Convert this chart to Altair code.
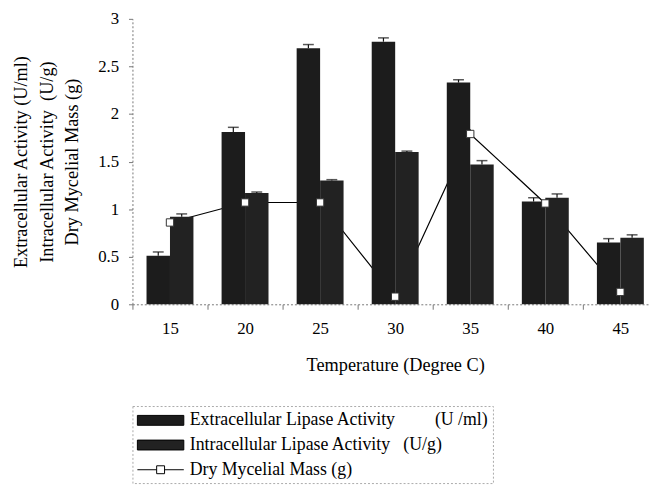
import altair as alt
import pandas as pd

temps = ["15", "20", "25", "30", "35", "40", "45"]
ext = [0.51, 1.81, 2.69, 2.76, 2.33, 1.08, 0.65]
ext_err = [0.04, 0.05, 0.04, 0.04, 0.03, 0.04, 0.04]
intr = [0.92, 1.17, 1.30, 1.60, 1.47, 1.12, 0.70]
int_err = [0.03, 0.01, 0.01, 0.01, 0.04, 0.04, 0.03]
mass = [0.86, 1.07, 1.07, 0.08, 1.79, 1.06, 0.13]
mass_err = [0.0, 0.0, 0.0, 0.0, 0.05, 0.0, 0.0]

EXT = "Extracellular Lipase Activity" + "\u00a0" * 9 + "(U /ml)"
INT = "Intracellular Lipase Activity" + "\u00a0" * 3 + "(U/g)"
MASS = "Dry Mycelial Mass (g)"
series = [EXT, INT, MASS]
y_ticks = [0, 0.5, 1, 1.5, 2, 2.5, 3]
y_title = ["Extracellular Activity (U/ml)", "Intracellular Activity\u00a0\u00a0(U/g)", "Dry Mycelial Mass (g)"]
x_title = "Temperature (Degree C)"

bars_df = pd.DataFrame({
    "temp": temps * 2,
    "series": [EXT] * 7 + [INT] * 7,
    "value": ext + intr,
    "err": ext_err + int_err,
})
bars_df["top"] = bars_df["value"] + bars_df["err"]
mass_df = pd.DataFrame({"temp": temps, "series": MASS, "value": mass, "err": mass_err})
mass_df["top"] = mass_df["value"] + mass_df["err"]

FONT = "Liberation Serif"

x_enc = alt.X("temp:N", sort=temps,
              scale=alt.Scale(paddingInner=0, paddingOuter=0, range=[0, 532]),
              axis=alt.Axis(title=x_title, labelAngle=0, tickBand="extent",
                            domainDash=[2, 2], domainColor="#777", tickColor="#777",
                            tickSize=5, labelPadding=12, titlePadding=19,
                            labelFont=FONT, titleFont=FONT,
                            labelFontSize=17, titleFontSize=18.5))
xoff = alt.XOffset("series:N", sort=[EXT, INT],
                   scale=alt.Scale(domain=[EXT, INT], paddingInner=0, paddingOuter=0.6))
y_axis = alt.Axis(title=y_title, values=y_ticks, format="~g", grid=False,
                  domainDash=[2, 2], domainColor="#777", tickColor="#777",
                  tickSize=4, labelPadding=10, titlePadding=16, titleLineHeight=26,
                  labelFont=FONT, titleFont=FONT,
                  labelFontSize=17, titleFontSize=18.5)
y_scale = alt.Scale(domain=[0, 3], nice=False)

color_scale = alt.Scale(domain=series, range=["#1c1c1c", "#222222", "white"])
rect_path = "M-2.35,-0.5L2.35,-0.5L2.35,0.5L-2.35,0.5Z"
mass_path = "M-2.35,0L-0.4,0M0.4,0L2.35,0M-0.4,-0.4L0.4,-0.4L0.4,0.4L-0.4,0.4Z"
shape_scale = alt.Scale(domain=series, range=[rect_path, rect_path, mass_path])

legend = alt.Legend(title=None, orient="none", legendX=0, legendY=392, direction="vertical",
                    symbolSize=400, symbolOffset=14, labelOffset=19, rowPadding=5,
                    padding=4, strokeColor="#aaa",
                    symbolStrokeColor="black", symbolStrokeWidth=1, labelLimit=600,
                    labelFont=FONT, labelFontSize=18)

base_b = alt.Chart(bars_df)
base_m = alt.Chart(mass_df)

line = base_m.mark_line(color="black", strokeWidth=1.2).encode(
    x=x_enc, y=alt.Y("value:Q", scale=y_scale, axis=y_axis))

bars = base_b.mark_bar(color="#141414").encode(
    x=x_enc, xOffset=xoff,
    y=alt.Y("value:Q", scale=y_scale, axis=y_axis),
    color=alt.Color("series:N", scale=color_scale, legend=legend))

err_rule = base_b.mark_rule(color="#111", strokeWidth=1.2).encode(
    x=x_enc, xOffset=xoff,
    y=alt.Y("value:Q", scale=y_scale, axis=y_axis), y2="top:Q")
err_cap = base_b.mark_tick(color="#111", thickness=1.5, size=11).encode(
    x=x_enc, xOffset=xoff,
    y=alt.Y("top:Q", scale=y_scale, axis=y_axis))

m_rule = base_m.mark_rule(color="#111", strokeWidth=1.2).encode(
    x=x_enc, y=alt.Y("value:Q", scale=y_scale, axis=y_axis), y2="top:Q")

points = base_m.mark_point(shape="square", filled=True, fill="white", stroke="#333",
                           strokeWidth=1, size=55, opacity=1).encode(
    x=x_enc, y=alt.Y("value:Q", scale=y_scale, axis=y_axis))

hidden = base_m.mark_point(filled=True, opacity=1).encode(
    x=x_enc, y=alt.Y("value:Q", scale=y_scale, axis=y_axis),
    color=alt.Color("series:N", scale=color_scale, legend=legend),
    shape=alt.Shape("series:N", scale=shape_scale, legend=legend),
).transform_filter("false")

chart = alt.layer(line, bars, err_rule, err_cap, m_rule, points, hidden).properties(
    width=516, height=289,
    autosize=alt.AutoSizeParams(type="none"),
    padding={"left": 126, "top": 8, "right": 8, "bottom": 183},
    background="white",
).configure_view(stroke=None).configure_axis(
    labelFont=FONT, labelColor="black",
    titleFont=FONT, titleFontWeight="normal", titleColor="black",
).configure_legend(labelFont=FONT, labelFontSize=18, labelColor="black",
                   strokeDash=[2, 2], symbolStrokeColor="black", symbolStrokeWidth=1)

chart.save("out.html", embed_options={"renderer": "svg", "actions": False})
